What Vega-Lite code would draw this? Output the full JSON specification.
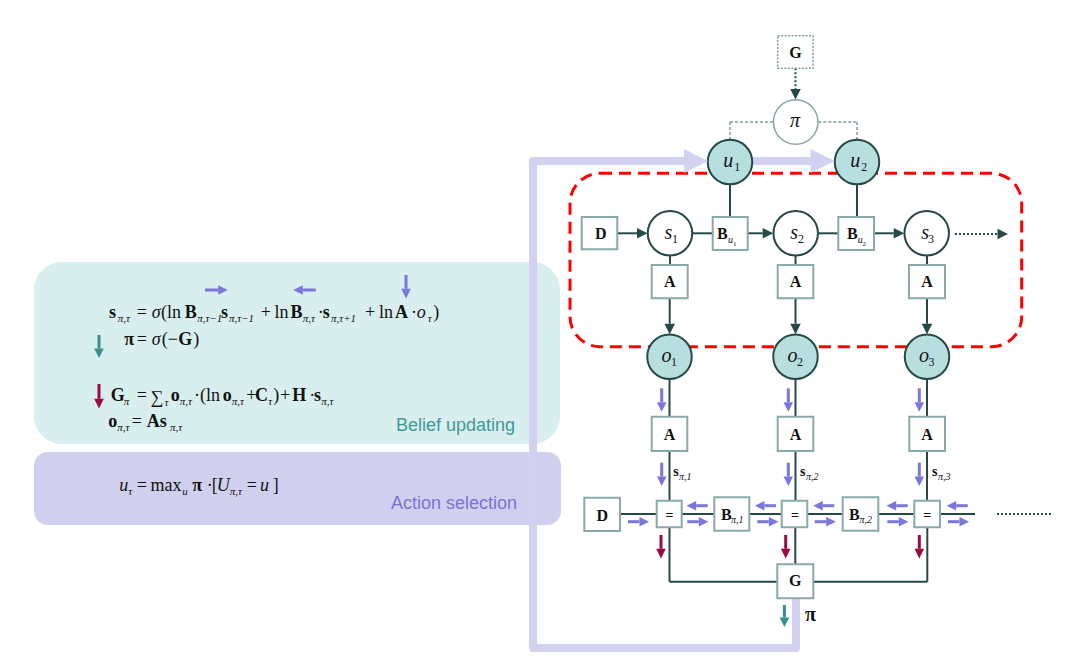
{
"$schema": "https://vega.github.io/schema/vega-lite/v6.json",
"width": 1067, "height": 669, "padding": 0, "autosize": {"type": "none"},
"background": "#ffffff",
"config": {"view": {"stroke": null}},
"datasets": {
"panels": [
 {"x":34,"x2":560,"y":262,"y2":444,"k":"belief"},
 {"x":34,"x2":561,"y":452,"y2":525,"k":"action"}
],
"red": [{"x":570,"x2":1021.7,"y":173.3,"y2":346.7}],
"lav": [
 {"x":796,"y":598.3,"o":1,"g":"a"},
 {"x":796,"y":648,"o":2,"g":"a"},
 {"x":533,"y":648,"o":3,"g":"a"},
 {"x":533,"y":161,"o":4,"g":"a"},
 {"x":684,"y":161,"o":5,"g":"a"},
 {"x":752,"y":161,"o":1,"g":"b"},
 {"x":811,"y":161,"o":2,"g":"b"}
],
"seg": [
 {"x":730,"y":184.5,"x2":730,"y2":217,"k":"dark"},
 {"x":857,"y":184.5,"x2":857,"y2":217,"k":"dark"},
 {"x":692.5,"y":233.3,"x2":712.7,"y2":233.3,"k":"dark"},
 {"x":818.2,"y":233.3,"x2":838.3,"y2":233.3,"k":"dark"},
 {"x":617.3,"y":233.3,"x2":637,"y2":233.3,"k":"dark"},
 {"x":747.7,"y":233.3,"x2":762.7,"y2":233.3,"k":"dark"},
 {"x":874,"y":233.3,"x2":893.7,"y2":233.3,"k":"dark"},
 {"x":670,"y":255.8,"x2":670,"y2":265,"k":"dark"},
 {"x":795.5,"y":255.8,"x2":795.5,"y2":265,"k":"dark"},
 {"x":927,"y":255.8,"x2":927,"y2":265,"k":"dark"},
 {"x":669.7,"y":298.3,"x2":669.7,"y2":323.7,"k":"dark"},
 {"x":795.5,"y":298.3,"x2":795.5,"y2":323.7,"k":"dark"},
 {"x":927,"y":298.3,"x2":927,"y2":323.7,"k":"dark"},
 {"x":669.5,"y":379,"x2":669.5,"y2":416.7,"k":"dark"},
 {"x":795.5,"y":379,"x2":795.5,"y2":416.7,"k":"dark"},
 {"x":927,"y":379,"x2":927,"y2":416.7,"k":"dark"},
 {"x":669.5,"y":451,"x2":669.5,"y2":500.7,"k":"dark"},
 {"x":795.5,"y":451,"x2":795.5,"y2":500.7,"k":"dark"},
 {"x":927,"y":451,"x2":927,"y2":500.7,"k":"dark"},
 {"x":620,"y":514,"x2":975,"y2":514,"k":"dark"},
 {"x":669.5,"y":527.3,"x2":669.5,"y2":581.7,"k":"dark"},
 {"x":795.3,"y":527.3,"x2":795.3,"y2":564.3,"k":"dark"},
 {"x":927.3,"y":527.3,"x2":927.3,"y2":581.7,"k":"dark"},
 {"x":669.5,"y":581.7,"x2":927.3,"y2":581.7,"k":"dark"},
 {"x":955,"y":234,"x2":997.5,"y2":234,"k":"dot"},
 {"x":795.5,"y":68.3,"x2":795.5,"y2":89,"k":"dot"},
 {"x":997,"y":514,"x2":1052,"y2":514,"k":"dot"},
 {"x":773,"y":122,"x2":730,"y2":122,"k":"gdash"},
 {"x":730,"y":122,"x2":730,"y2":139.5,"k":"gdash"},
 {"x":818.3,"y":122,"x2":857,"y2":122,"k":"gdash"},
 {"x":857,"y":122,"x2":857,"y2":139.5,"k":"gdash"},
 {"x":628,"y":521.7,"x2":639.5,"y2":521.7,"k":"purple"},
 {"x":687.3,"y":521.7,"x2":698.8,"y2":521.7,"k":"purple"},
 {"x":757.3,"y":521.7,"x2":768.8,"y2":521.7,"k":"purple"},
 {"x":814.7,"y":521.7,"x2":826.2,"y2":521.7,"k":"purple"},
 {"x":887.3,"y":521.7,"x2":898.8,"y2":521.7,"k":"purple"},
 {"x":948,"y":521.7,"x2":959.5,"y2":521.7,"k":"purple"},
 {"x":707.7,"y":505.7,"x2":696.2,"y2":505.7,"k":"purple"},
 {"x":776,"y":505.7,"x2":764.5,"y2":505.7,"k":"purple"},
 {"x":834.3,"y":505.7,"x2":822.8,"y2":505.7,"k":"purple"},
 {"x":907.7,"y":505.7,"x2":896.2,"y2":505.7,"k":"purple"},
 {"x":967.7,"y":505.7,"x2":956.2,"y2":505.7,"k":"purple"},
 {"x":661.7,"y":388.3,"x2":661.7,"y2":402.2,"k":"purple"},
 {"x":788.3,"y":388.3,"x2":788.3,"y2":402.2,"k":"purple"},
 {"x":919.3,"y":388.3,"x2":919.3,"y2":402.2,"k":"purple"},
 {"x":661.7,"y":462.7,"x2":661.7,"y2":476.5,"k":"purple"},
 {"x":788.3,"y":462.7,"x2":788.3,"y2":476.5,"k":"purple"},
 {"x":919.3,"y":462.7,"x2":919.3,"y2":476.5,"k":"purple"},
 {"x":205,"y":290,"x2":218.2,"y2":290,"k":"purple"},
 {"x":315.7,"y":290,"x2":302.8,"y2":290,"k":"purple"},
 {"x":406,"y":275,"x2":406,"y2":288.8,"k":"purple"},
 {"x":661,"y":535,"x2":661,"y2":548.8,"k":"crimson"},
 {"x":785.7,"y":535,"x2":785.7,"y2":548.8,"k":"crimson"},
 {"x":919.3,"y":535,"x2":919.3,"y2":548.8,"k":"crimson"},
 {"x":99,"y":384,"x2":99,"y2":398.8,"k":"crimson"},
 {"x":784.4,"y":605,"x2":784.4,"y2":617.5,"k":"teal"},
 {"x":99,"y":335,"x2":99,"y2":348.5,"k":"teal"}
],
"heads": [
 {"x":684,"y":161,"d":"r","k":"lav"},
 {"x":810.5,"y":161,"d":"r","k":"lav"},
 {"x":637,"y":233.3,"d":"r","k":"dark"},
 {"x":762.7,"y":233.3,"d":"r","k":"dark"},
 {"x":893.7,"y":233.3,"d":"r","k":"dark"},
 {"x":669.7,"y":323.7,"d":"d","k":"dark"},
 {"x":795.5,"y":323.7,"d":"d","k":"dark"},
 {"x":927,"y":323.7,"d":"d","k":"dark"},
 {"x":997.5,"y":234,"d":"r","k":"dark"},
 {"x":795.5,"y":89,"d":"d","k":"dark"},
 {"x":639.5,"y":521.7,"d":"r","k":"purple"},
 {"x":698.8,"y":521.7,"d":"r","k":"purple"},
 {"x":768.8,"y":521.7,"d":"r","k":"purple"},
 {"x":826.2,"y":521.7,"d":"r","k":"purple"},
 {"x":898.8,"y":521.7,"d":"r","k":"purple"},
 {"x":959.5,"y":521.7,"d":"r","k":"purple"},
 {"x":696.2,"y":505.7,"d":"l","k":"purple"},
 {"x":764.5,"y":505.7,"d":"l","k":"purple"},
 {"x":822.8,"y":505.7,"d":"l","k":"purple"},
 {"x":896.2,"y":505.7,"d":"l","k":"purple"},
 {"x":956.2,"y":505.7,"d":"l","k":"purple"},
 {"x":661.7,"y":402.2,"d":"d","k":"purple"},
 {"x":788.3,"y":402.2,"d":"d","k":"purple"},
 {"x":919.3,"y":402.2,"d":"d","k":"purple"},
 {"x":661.7,"y":476.5,"d":"d","k":"purple"},
 {"x":788.3,"y":476.5,"d":"d","k":"purple"},
 {"x":919.3,"y":476.5,"d":"d","k":"purple"},
 {"x":218.2,"y":290,"d":"r","k":"purple"},
 {"x":302.8,"y":290,"d":"l","k":"purple"},
 {"x":406,"y":288.8,"d":"d","k":"purple"},
 {"x":661,"y":548.8,"d":"d","k":"crimson"},
 {"x":785.7,"y":548.8,"d":"d","k":"crimson"},
 {"x":919.3,"y":548.8,"d":"d","k":"crimson"},
 {"x":99,"y":398.8,"d":"d","k":"crimson"},
 {"x":784.4,"y":617.5,"d":"d","k":"teal"},
 {"x":99,"y":348.5,"d":"d","k":"teal"}
],
"boxes": [
 {"x":581.7,"x2":617.3,"y":217,"y2":249.3,"k":"solid"},
 {"x":712.7,"x2":747.7,"y":217,"y2":250,"k":"solid"},
 {"x":838.3,"x2":874,"y":217,"y2":250,"k":"solid"},
 {"x":651.7,"x2":687.7,"y":265,"y2":298.3,"k":"solid"},
 {"x":777.7,"x2":813.3,"y":265,"y2":298.3,"k":"solid"},
 {"x":909,"x2":945,"y":265,"y2":298.3,"k":"solid"},
 {"x":651.7,"x2":687.3,"y":416.7,"y2":451,"k":"solid"},
 {"x":777.7,"x2":813.3,"y":416.7,"y2":451,"k":"solid"},
 {"x":909.3,"x2":945,"y":416.7,"y2":451,"k":"solid"},
 {"x":584.3,"x2":620,"y":497.7,"y2":531,"k":"solid"},
 {"x":656.7,"x2":681.7,"y":500.7,"y2":527.3,"k":"solid"},
 {"x":714.3,"x2":749.3,"y":497.3,"y2":530.7,"k":"solid"},
 {"x":781.7,"x2":807.3,"y":500.7,"y2":527.3,"k":"solid"},
 {"x":842.7,"x2":878.3,"y":497.3,"y2":530.7,"k":"solid"},
 {"x":914.3,"x2":940,"y":500.7,"y2":527.3,"k":"solid"},
 {"x":777.3,"x2":813.3,"y":564.3,"y2":598.3,"k":"solid"},
 {"x":777.7,"x2":813,"y":35.7,"y2":68.3,"k":"dotted"}
],
"circles": [
 {"x":730,"y":162,"k":"fill"},
 {"x":857,"y":162,"k":"fill"},
 {"x":669.5,"y":356.7,"k":"fill"},
 {"x":795.5,"y":356.7,"k":"fill"},
 {"x":927,"y":356.7,"k":"fill"},
 {"x":670,"y":233.3,"k":"open"},
 {"x":795.7,"y":233.3,"k":"open"},
 {"x":926.7,"y":233.3,"k":"open"},
 {"x":795.7,"y":122,"k":"pi"}
],
"tx": [
 {"x":109,"y":317.5,"t":"s","f":"b18"},
 {"x":117.7,"y":321.5,"t":"π,τ","f":"s11"},
 {"x":136.7,"y":317.5,"t":"=","f":"n18"},
 {"x":151.7,"y":317.5,"t":"σ","f":"i18"},
 {"x":161,"y":317.5,"t":"(ln","f":"n18"},
 {"x":184.8,"y":317.5,"t":"B","f":"b18"},
 {"x":197.2,"y":321.5,"t":"π,τ−1","f":"s11"},
 {"x":221,"y":317.5,"t":"s","f":"b18"},
 {"x":229,"y":321.5,"t":"π,τ−1","f":"s11"},
 {"x":260.7,"y":317.5,"t":"+","f":"n18"},
 {"x":274.5,"y":317.5,"t":"ln","f":"n18"},
 {"x":290.5,"y":317.5,"t":"B","f":"b18"},
 {"x":302.8,"y":321.5,"t":"π,τ","f":"s11"},
 {"x":317.7,"y":317.5,"t":"·","f":"n18"},
 {"x":322.7,"y":317.5,"t":"s","f":"b18"},
 {"x":331,"y":321.5,"t":"π,τ+1","f":"s11"},
 {"x":365,"y":317.5,"t":"+","f":"n18"},
 {"x":379,"y":317.5,"t":"ln","f":"n18"},
 {"x":395,"y":317.5,"t":"A","f":"b18"},
 {"x":411,"y":317.5,"t":"·","f":"n18"},
 {"x":416.7,"y":317.5,"t":"o","f":"i18"},
 {"x":427.7,"y":321.5,"t":"τ","f":"s11"},
 {"x":433.3,"y":317.5,"t":")","f":"n18"},
 {"x":124.3,"y":345,"t":"π","f":"b18"},
 {"x":136.7,"y":345,"t":"=","f":"n18"},
 {"x":151.7,"y":345,"t":"σ","f":"i18"},
 {"x":161.7,"y":345,"t":"(−","f":"n18"},
 {"x":178.3,"y":345,"t":"G","f":"b18"},
 {"x":193.3,"y":345,"t":")","f":"n18"},
 {"x":110.7,"y":400.7,"t":"G","f":"b18"},
 {"x":123.8,"y":404.7,"t":"π","f":"s11"},
 {"x":136.7,"y":400.7,"t":"=","f":"n18"},
 {"x":150.5,"y":403,"t":"∑","f":"n18"},
 {"x":164.5,"y":406,"t":"τ","f":"s11"},
 {"x":170.7,"y":400.7,"t":"o","f":"b18"},
 {"x":179.8,"y":404.7,"t":"π,τ","f":"s11"},
 {"x":194,"y":400.7,"t":"·","f":"n18"},
 {"x":200,"y":400.7,"t":"(ln","f":"n18"},
 {"x":222.7,"y":400.7,"t":"o","f":"b18"},
 {"x":231.7,"y":404.7,"t":"π,τ","f":"s11"},
 {"x":246.2,"y":400.7,"t":"+","f":"n18"},
 {"x":255,"y":400.7,"t":"C","f":"b18"},
 {"x":268.3,"y":404.7,"t":"τ","f":"s11"},
 {"x":273.2,"y":400.7,"t":")","f":"n18"},
 {"x":280,"y":400.7,"t":"+","f":"n18"},
 {"x":292.2,"y":400.7,"t":"H","f":"b18"},
 {"x":309.3,"y":400.7,"t":"·","f":"n18"},
 {"x":314,"y":400.7,"t":"s","f":"b18"},
 {"x":321.2,"y":404.7,"t":"π,τ","f":"s11"},
 {"x":108.3,"y":426.7,"t":"o","f":"b18"},
 {"x":117.2,"y":430.7,"t":"π,τ","f":"s11"},
 {"x":131.7,"y":426.7,"t":"=","f":"n18"},
 {"x":146.7,"y":426.7,"t":"As","f":"b18"},
 {"x":170,"y":430.7,"t":"π,τ","f":"s11"},
 {"x":119.3,"y":491,"t":"u","f":"i18"},
 {"x":128.3,"y":495,"t":"τ","f":"s11"},
 {"x":136.7,"y":491,"t":"=","f":"n18"},
 {"x":150.5,"y":491,"t":"max","f":"n18"},
 {"x":182.3,"y":495,"t":"u","f":"s11"},
 {"x":192.2,"y":491,"t":"π","f":"b18"},
 {"x":206.7,"y":491,"t":"·","f":"n18"},
 {"x":211.7,"y":491,"t":"[","f":"n18"},
 {"x":216.7,"y":491,"t":"U","f":"i18"},
 {"x":229.8,"y":495,"t":"π,τ","f":"s11"},
 {"x":246.7,"y":491,"t":"=","f":"n18"},
 {"x":260,"y":491,"t":"u","f":"i18"},
 {"x":272.7,"y":491,"t":"]","f":"n18"},
 {"x":789.3,"y":57.5,"t":"G","f":"b16"},
 {"x":595,"y":238.5,"t":"D","f":"b16"},
 {"x":717,"y":239,"t":"B","f":"b16"},
 {"x":847,"y":239,"t":"B","f":"b16"},
 {"x":663.9,"y":287,"t":"A","f":"b16"},
 {"x":789.7,"y":287,"t":"A","f":"b16"},
 {"x":921.2,"y":287,"t":"A","f":"b16"},
 {"x":663.7,"y":439.5,"t":"A","f":"b16"},
 {"x":789.7,"y":439.5,"t":"A","f":"b16"},
 {"x":921.3,"y":439.5,"t":"A","f":"b16"},
 {"x":596.5,"y":520.5,"t":"D","f":"b16"},
 {"x":721,"y":519.5,"t":"B","f":"b16"},
 {"x":849,"y":519.5,"t":"B","f":"b16"},
 {"x":789,"y":585.5,"t":"G","f":"b16"},
 {"x":665.5,"y":519.5,"t":"=","f":"b14"},
 {"x":791,"y":519.5,"t":"=","f":"b14"},
 {"x":923.3,"y":519.5,"t":"=","f":"b14"},
 {"x":673.3,"y":476,"t":"s","f":"b14"},
 {"x":800,"y":476,"t":"s","f":"b14"},
 {"x":932,"y":476,"t":"s","f":"b14"},
 {"x":805,"y":621,"t":"π","f":"b20"},
 {"x":790,"y":127,"t":"π","f":"i20"},
 {"x":723.3,"y":167,"t":"u","f":"i20"},
 {"x":850.3,"y":167,"t":"u","f":"i20"},
 {"x":664.5,"y":238.5,"t":"s","f":"i20"},
 {"x":790.2,"y":238.5,"t":"s","f":"i20"},
 {"x":921.2,"y":238.5,"t":"s","f":"i20"},
 {"x":661.5,"y":362,"t":"o","f":"i20"},
 {"x":787.5,"y":362,"t":"o","f":"i20"},
 {"x":919,"y":362,"t":"o","f":"i20"},
 {"x":734.3,"y":171,"t":"1","f":"n12"},
 {"x":861.3,"y":171,"t":"2","f":"n12"},
 {"x":672,"y":243,"t":"1","f":"n12"},
 {"x":798,"y":243,"t":"2","f":"n12"},
 {"x":928,"y":243,"t":"3","f":"n12"},
 {"x":671,"y":366,"t":"1","f":"n12"},
 {"x":797,"y":366,"t":"2","f":"n12"},
 {"x":928.5,"y":366,"t":"3","f":"n12"},
 {"x":728,"y":243,"t":"u","f":"s10"},
 {"x":857.7,"y":243,"t":"u","f":"s10"},
 {"x":731,"y":523,"t":"π,1","f":"s10"},
 {"x":859.5,"y":523,"t":"π,2","f":"s10"},
 {"x":679,"y":479.5,"t":"π,1","f":"s10"},
 {"x":806,"y":479.5,"t":"π,2","f":"s10"},
 {"x":938,"y":479.5,"t":"π,3","f":"s10"},
 {"x":733,"y":245.5,"t":"1","f":"n7"},
 {"x":862.5,"y":245.5,"t":"2","f":"n7"},
 {"x":515,"y":431,"t":"Belief updating","f":"lb"},
 {"x":517,"y":509,"t":"Action selection","f":"la"}
]
},
"encoding": {
 "x": {"field":"x","type":"quantitative","scale":{"domain":[0,1067],"nice":false,"zero":false},"axis":null},
 "y": {"field":"y","type":"quantitative","scale":{"domain":[0,669],"nice":false,"zero":false,"reverse":true},"axis":null}
},
"layer": [
 {"data":{"name":"panels"},"transform":[{"filter":"datum.k=='belief'"}],
  "mark":{"type":"rect","fill":"#d9eeee","cornerRadius":28},
  "encoding":{"x2":{"field":"x2"},"y2":{"field":"y2"}}},
 {"data":{"name":"panels"},"transform":[{"filter":"datum.k=='action'"}],
  "mark":{"type":"rect","fill":"#d0d0ee","cornerRadius":14},
  "encoding":{"x2":{"field":"x2"},"y2":{"field":"y2"}}},
 {"data":{"name":"red"},
  "mark":{"type":"rect","fill":"transparent","stroke":"#ff0000","strokeWidth":3,"strokeDash":[12,7],"cornerRadius":30},
  "encoding":{"x2":{"field":"x2"},"y2":{"field":"y2"}}},
 {"data":{"name":"lav"},
  "mark":{"type":"line","color":"#d2d2f0","strokeWidth":8,"strokeJoin":"round","strokeCap":"butt"},
  "encoding":{"order":{"field":"o","type":"quantitative"},"detail":{"field":"g"}}},
 {"data":{"name":"seg"},"transform":[{"filter":"datum.k=='dark'"}],
  "mark":{"type":"rule","color":"#264848","strokeWidth":2},
  "encoding":{"x2":{"field":"x2"},"y2":{"field":"y2"}}},
 {"data":{"name":"seg"},"transform":[{"filter":"datum.k=='dot'"}],
  "mark":{"type":"rule","color":"#264848","strokeWidth":2,"strokeDash":[2,2]},
  "encoding":{"x2":{"field":"x2"},"y2":{"field":"y2"}}},
 {"data":{"name":"seg"},"transform":[{"filter":"datum.k=='gdash'"}],
  "mark":{"type":"rule","color":"#7f9a9a","strokeWidth":1.5,"strokeDash":[3,2]},
  "encoding":{"x2":{"field":"x2"},"y2":{"field":"y2"}}},
 {"data":{"name":"boxes"},"transform":[{"filter":"datum.k=='solid'"}],
  "mark":{"type":"rect","fill":"#ffffff","stroke":"#8aa9a9","strokeWidth":2},
  "encoding":{"x2":{"field":"x2"},"y2":{"field":"y2"}}},
 {"data":{"name":"boxes"},"transform":[{"filter":"datum.k=='dotted'"}],
  "mark":{"type":"rect","fill":"#ffffff","stroke":"#7f9e9e","strokeWidth":1.5,"strokeDash":[2,1.5]},
  "encoding":{"x2":{"field":"x2"},"y2":{"field":"y2"}}},
 {"data":{"name":"circles"},"transform":[{"filter":"datum.k=='fill'"}],
  "mark":{"type":"point","shape":"circle","size":1980,"filled":true,"fill":"#b8dfe0","stroke":"#264848","strokeWidth":2,"opacity":1}},
 {"data":{"name":"circles"},"transform":[{"filter":"datum.k=='open'"}],
  "mark":{"type":"point","shape":"circle","size":1980,"filled":true,"fill":"#ffffff","stroke":"#264848","strokeWidth":2,"opacity":1}},
 {"data":{"name":"circles"},"transform":[{"filter":"datum.k=='pi'"}],
  "mark":{"type":"point","shape":"circle","size":1980,"filled":true,"fill":"#ffffff","stroke":"#8aa5a5","strokeWidth":1.5,"opacity":1}},
 {"data":{"name":"seg"},"transform":[{"filter":"datum.k=='purple' || datum.k=='crimson' || datum.k=='teal'"}],
  "mark":{"type":"rule","strokeWidth":3},
  "encoding":{"x2":{"field":"x2"},"y2":{"field":"y2"},
   "color":{"field":"k","type":"nominal","scale":{"domain":["purple","crimson","teal"],"range":["#7b76d9","#9b0b3d","#3a8e8e"]},"legend":null}}},
 {"data":{"name":"heads"},"transform":[{"filter":"datum.k=='lav'"}],
  "mark":{"type":"point","filled":true,"size":576,"color":"#d2d2f0","opacity":1,"strokeWidth":0},
  "encoding":{"shape":{"field":"d","type":"nominal","scale":{"domain":["r","l","d"],"range":["M0,-1L2,0L0,1Z","M0,-1L-2,0L0,1Z","M-1,0L1,0L0,2Z"]},"legend":null}}},
 {"data":{"name":"heads"},"transform":[{"filter":"datum.k=='dark'"}],
  "mark":{"type":"point","filled":true,"size":110,"color":"#264848","opacity":1,"strokeWidth":0},
  "encoding":{"shape":{"field":"d","type":"nominal","scale":{"domain":["r","l","d"],"range":["M0,-1L2,0L0,1Z","M0,-1L-2,0L0,1Z","M-1,0L1,0L0,2Z"]},"legend":null}}},
 {"data":{"name":"heads"},"transform":[{"filter":"datum.k=='purple' || datum.k=='crimson' || datum.k=='teal'"}],
  "mark":{"type":"point","filled":true,"size":92,"opacity":1,"strokeWidth":0},
  "encoding":{"shape":{"field":"d","type":"nominal","scale":{"domain":["r","l","d"],"range":["M0,-1L2,0L0,1Z","M0,-1L-2,0L0,1Z","M-1,0L1,0L0,2Z"]},"legend":null},
   "color":{"field":"k","type":"nominal","scale":{"domain":["purple","crimson","teal"],"range":["#7b76d9","#9b0b3d","#3a8e8e"]},"legend":null}}},
 {"data":{"name":"tx"},"transform":[{"filter":"datum.f=='b18'"}],
  "mark":{"type":"text","font":"Liberation Serif","fontWeight":"bold","fontSize":18,"align":"left","baseline":"alphabetic","color":"#111111"},
  "encoding":{"text":{"field":"t"}}},
 {"data":{"name":"tx"},"transform":[{"filter":"datum.f=='i18'"}],
  "mark":{"type":"text","font":"Liberation Serif","fontStyle":"italic","fontSize":18,"align":"left","baseline":"alphabetic","color":"#111111"},
  "encoding":{"text":{"field":"t"}}},
 {"data":{"name":"tx"},"transform":[{"filter":"datum.f=='n18'"}],
  "mark":{"type":"text","font":"Liberation Serif","fontSize":18,"align":"left","baseline":"alphabetic","color":"#111111"},
  "encoding":{"text":{"field":"t"}}},
 {"data":{"name":"tx"},"transform":[{"filter":"datum.f=='s11'"}],
  "mark":{"type":"text","font":"Liberation Serif","fontStyle":"italic","fontSize":11,"align":"left","baseline":"alphabetic","color":"#111111"},
  "encoding":{"text":{"field":"t"}}},
 {"data":{"name":"tx"},"transform":[{"filter":"datum.f=='b16'"}],
  "mark":{"type":"text","font":"Liberation Serif","fontWeight":"bold","fontSize":16,"align":"left","baseline":"alphabetic","color":"#111111"},
  "encoding":{"text":{"field":"t"}}},
 {"data":{"name":"tx"},"transform":[{"filter":"datum.f=='b14'"}],
  "mark":{"type":"text","font":"Liberation Serif","fontWeight":"bold","fontSize":14,"align":"left","baseline":"alphabetic","color":"#111111"},
  "encoding":{"text":{"field":"t"}}},
 {"data":{"name":"tx"},"transform":[{"filter":"datum.f=='b20'"}],
  "mark":{"type":"text","font":"Liberation Serif","fontWeight":"bold","fontSize":20,"align":"left","baseline":"alphabetic","color":"#111111"},
  "encoding":{"text":{"field":"t"}}},
 {"data":{"name":"tx"},"transform":[{"filter":"datum.f=='i20'"}],
  "mark":{"type":"text","font":"Liberation Serif","fontStyle":"italic","fontSize":20,"align":"left","baseline":"alphabetic","color":"#111111"},
  "encoding":{"text":{"field":"t"}}},
 {"data":{"name":"tx"},"transform":[{"filter":"datum.f=='n12'"}],
  "mark":{"type":"text","font":"Liberation Serif","fontSize":12,"align":"left","baseline":"alphabetic","color":"#111111"},
  "encoding":{"text":{"field":"t"}}},
 {"data":{"name":"tx"},"transform":[{"filter":"datum.f=='s10'"}],
  "mark":{"type":"text","font":"Liberation Serif","fontStyle":"italic","fontSize":10,"align":"left","baseline":"alphabetic","color":"#111111"},
  "encoding":{"text":{"field":"t"}}},
 {"data":{"name":"tx"},"transform":[{"filter":"datum.f=='n7'"}],
  "mark":{"type":"text","font":"Liberation Serif","fontSize":7,"align":"left","baseline":"alphabetic","color":"#111111"},
  "encoding":{"text":{"field":"t"}}},
 {"data":{"name":"tx"},"transform":[{"filter":"datum.f=='lb' || datum.f=='la'"}],
  "mark":{"type":"text","font":"Liberation Sans","fontSize":18,"align":"right","baseline":"alphabetic"},
  "encoding":{"text":{"field":"t"},
   "color":{"field":"f","type":"nominal","scale":{"domain":["lb","la"],"range":["#3f9a9a","#7a72d8"]},"legend":null}}}
],
"resolve": {"scale": {"color": "independent"}}
}
